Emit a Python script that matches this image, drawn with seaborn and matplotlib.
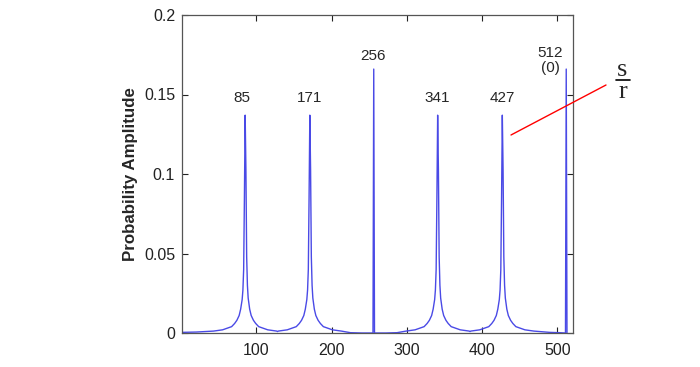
import pandas as pd
import seaborn as sns
import matplotlib.pyplot as plt
from matplotlib.lines import Line2D

# peaks of the measured register (period r = 6 over 512 states)
side_peaks = [85, 171, 341, 427]
spike_peaks = [256, 512]
spike_height = 0.166

# shape of one side peak (offset from peak, amplitude)
peak_offsets = [-42, -30, -24, -18, -14, -11, -8, -6, -4, -3, -2, -1, 0,
                1, 2, 3, 4, 6, 8, 11, 14, 18, 24, 30, 42]
peak_amps = [0.0012, 0.002, 0.003, 0.004, 0.006, 0.008, 0.011, 0.015, 0.021, 0.027, 0.040, 0.085, 0.137,
             0.103, 0.048, 0.030, 0.022, 0.015, 0.011, 0.008, 0.006, 0.004, 0.003, 0.002, 0.0012]

# flat stretches between peaks
base_x = [1, 20, 128, 225, 240, 255, 257, 272, 287, 384, 490, 503, 511, 513]
base_amps = [0.0004, 0.0006, 0.0009, 0.0002, 0.0, 0.0, 0.0, 0.0, 0.0002, 0.0009, 0.0004, 0.0002, 0.0, 0.0]

peak_labels = ["85", "171", "256", "341", "427", "512\n(0)"]
xticks = [100, 200, 300, 400, 500]
yticks = [0, 0.05, 0.1, 0.15, 0.2]
ytick_labels = ["0", "0.05", "0.1", "0.15", "0.2"]

rows = []
for c in side_peaks:
    for o, a in zip(peak_offsets, peak_amps):
        rows.append((c + o, a))
for c in spike_peaks:
    rows.append((c, spike_height))
rows += list(zip(base_x, base_amps))
df = pd.DataFrame(rows, columns=["state", "amp"]).sort_values("state")

sns.set_style("ticks")
plt.rcParams["font.family"] = ["Liberation Sans", "DejaVu Sans"]

fig = plt.figure(figsize=(7, 3.67), dpi=100)
ax = fig.add_axes([182 / 700, 1 - 333 / 367, 391 / 700, 318 / 367])
sns.lineplot(data=df, x="state", y="amp", estimator=None, sort=True,
             color="#4a4ae6", linewidth=1.0, ax=ax)

ax.set_xlim(1, 521)
ax.set_ylim(0, 0.2)
ax.set_xticks(xticks)
ax.set_yticks(yticks)
ax.set_yticklabels(ytick_labels)
ax.set_xlabel("")
ax.set_ylabel("Probability Amplitude", fontsize=12.2, fontweight="bold", labelpad=4)
ax.tick_params(direction="in", top=True, right=True, length=4, width=0.8,
               labelsize=11.5, colors="#222222")
ax.tick_params(axis="x", pad=7)
ax.tick_params(axis="y", pad=5)
for s in ax.spines.values():
    s.set_visible(True)
    s.set_color("#555555")
    s.set_linewidth(0.9)

label_x = [80, 171, 255, 341, 427, 491]
label_y = [0.1437, 0.1437, 0.1696, 0.1437, 0.1437, 0.1625]
for t, lx, ly in zip(peak_labels, label_x, label_y):
    ax.text(lx, ly, t, ha="center", va="bottom", fontsize=11, linespacing=1.05)

# s/r annotation with the red pointer
fig.add_artist(Line2D([511 / 700, 606 / 700], [1 - 135 / 367, 1 - 85 / 367],
                      color="red", linewidth=1.0))
fig.text(622.5 / 700, 1 - 76 / 367, "s", ha="center", va="baseline",
         fontsize=19, family="Liberation Serif")
fig.text(622.5 / 700, 1 - 98 / 367, "r", ha="center", va="baseline",
         fontsize=19, family="Liberation Serif")
fig.add_artist(Line2D([615.5 / 700, 630 / 700], [1 - 79.5 / 367, 1 - 79.5 / 367],
                      color="black", linewidth=1.2))

fig.savefig("out.png", dpi=100)
